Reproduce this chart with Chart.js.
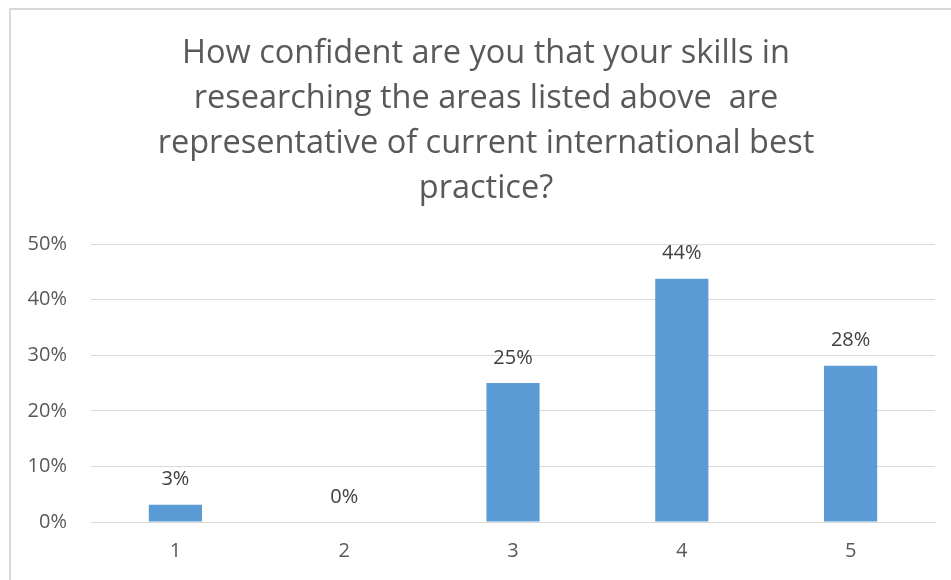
<!DOCTYPE html>
<html>
<head>
<meta charset="utf-8">
<script src="https://cdn.jsdelivr.net/npm/chart.js@4/dist/chart.umd.min.js"></script>
<style>
  html, body { margin: 0; padding: 0; background: #ffffff; overflow: hidden; }
  #frame { position: absolute; left: 9px; top: 8px; width: 980px; height: 600px;
           border-left: 2px solid #d9d9d9; border-top: 2px solid #d9d9d9; box-sizing: border-box; }
  #wrap { position: absolute; left: 0; top: 0; width: 951px; height: 580px; }
</style>
</head>
<body>
<div id="frame"></div>
<div id="wrap"><canvas id="c" width="951" height="580"></canvas></div>
<script>
const titleLines = [
  "How confident are you that your skills in",
  "researching the areas listed above  are",
  "representative of current international best",
  "practice?"
];
const categories = ["1", "2", "3", "4", "5"];
const shares = [0.03125, 0, 0.25, 0.4375, 0.28125];
const valueLabels = ["3%", "0%", "25%", "44%", "28%"];

const titlePlugin = {
  id: 'centredTitle',
  afterDraw(chart) {
    const ctx = chart.ctx;
    ctx.save();
    ctx.font = '32.5px "Open Sans"';
    ctx.fillStyle = '#595959';
    ctx.textAlign = 'center';
    ctx.textBaseline = 'alphabetic';
    titleLines.forEach((line, i) => {
      ctx.fillText(line, 486, 63 + i * 45);
    });
    ctx.restore();
  }
};

const barLabelPlugin = {
  id: 'barLabels',
  afterDatasetsDraw(chart) {
    const ctx = chart.ctx;
    const meta = chart.getDatasetMeta(0);
    ctx.save();
    ctx.font = '20px "Open Sans"';
    ctx.fillStyle = '#404040';
    ctx.textAlign = 'center';
    ctx.textBaseline = 'middle';
    meta.data.forEach((bar, i) => {
      ctx.fillText(valueLabels[i], bar.x, bar.y - 25);
    });
    ctx.restore();
  }
};

new Chart(document.getElementById('c'), {
  type: 'bar',
  data: {
    labels: categories,
    datasets: [{
      data: shares,
      backgroundColor: '#5b9bd5',
      borderWidth: 0,
      categoryPercentage: 1.0,
      barPercentage: 0.315
    }]
  },
  plugins: [titlePlugin, barLabelPlugin],
  options: {
    responsive: false,
    animation: false,
    devicePixelRatio: 1,
    layout: { padding: { left: 10, right: 16, top: 244, bottom: 0 } },
    plugins: {
      legend: { display: false },
      tooltip: { enabled: false },
      title: { display: false }
    },
    scales: {
      x: {
        afterFit(scale) { scale.height = 58; },
        grid: { display: false, drawTicks: false },
        border: { display: true, color: '#d9d9d9', width: 1 },
        ticks: { color: '#595959', font: { family: '"Open Sans"', size: 20 }, padding: 17 }
      },
      y: {
        min: 0, max: 0.5,
        afterFit(scale) { scale.width = 81; },
        grid: { color: '#d9d9d9', lineWidth: 1, drawTicks: false },
        border: { display: false },
        ticks: {
          stepSize: 0.1,
          color: '#595959',
          font: { family: '"Open Sans"', size: 20 },
          padding: 24,
          callback: v => Math.round(v * 100) + '%'
        }
      }
    }
  }
});
</script>
</body>
</html>
